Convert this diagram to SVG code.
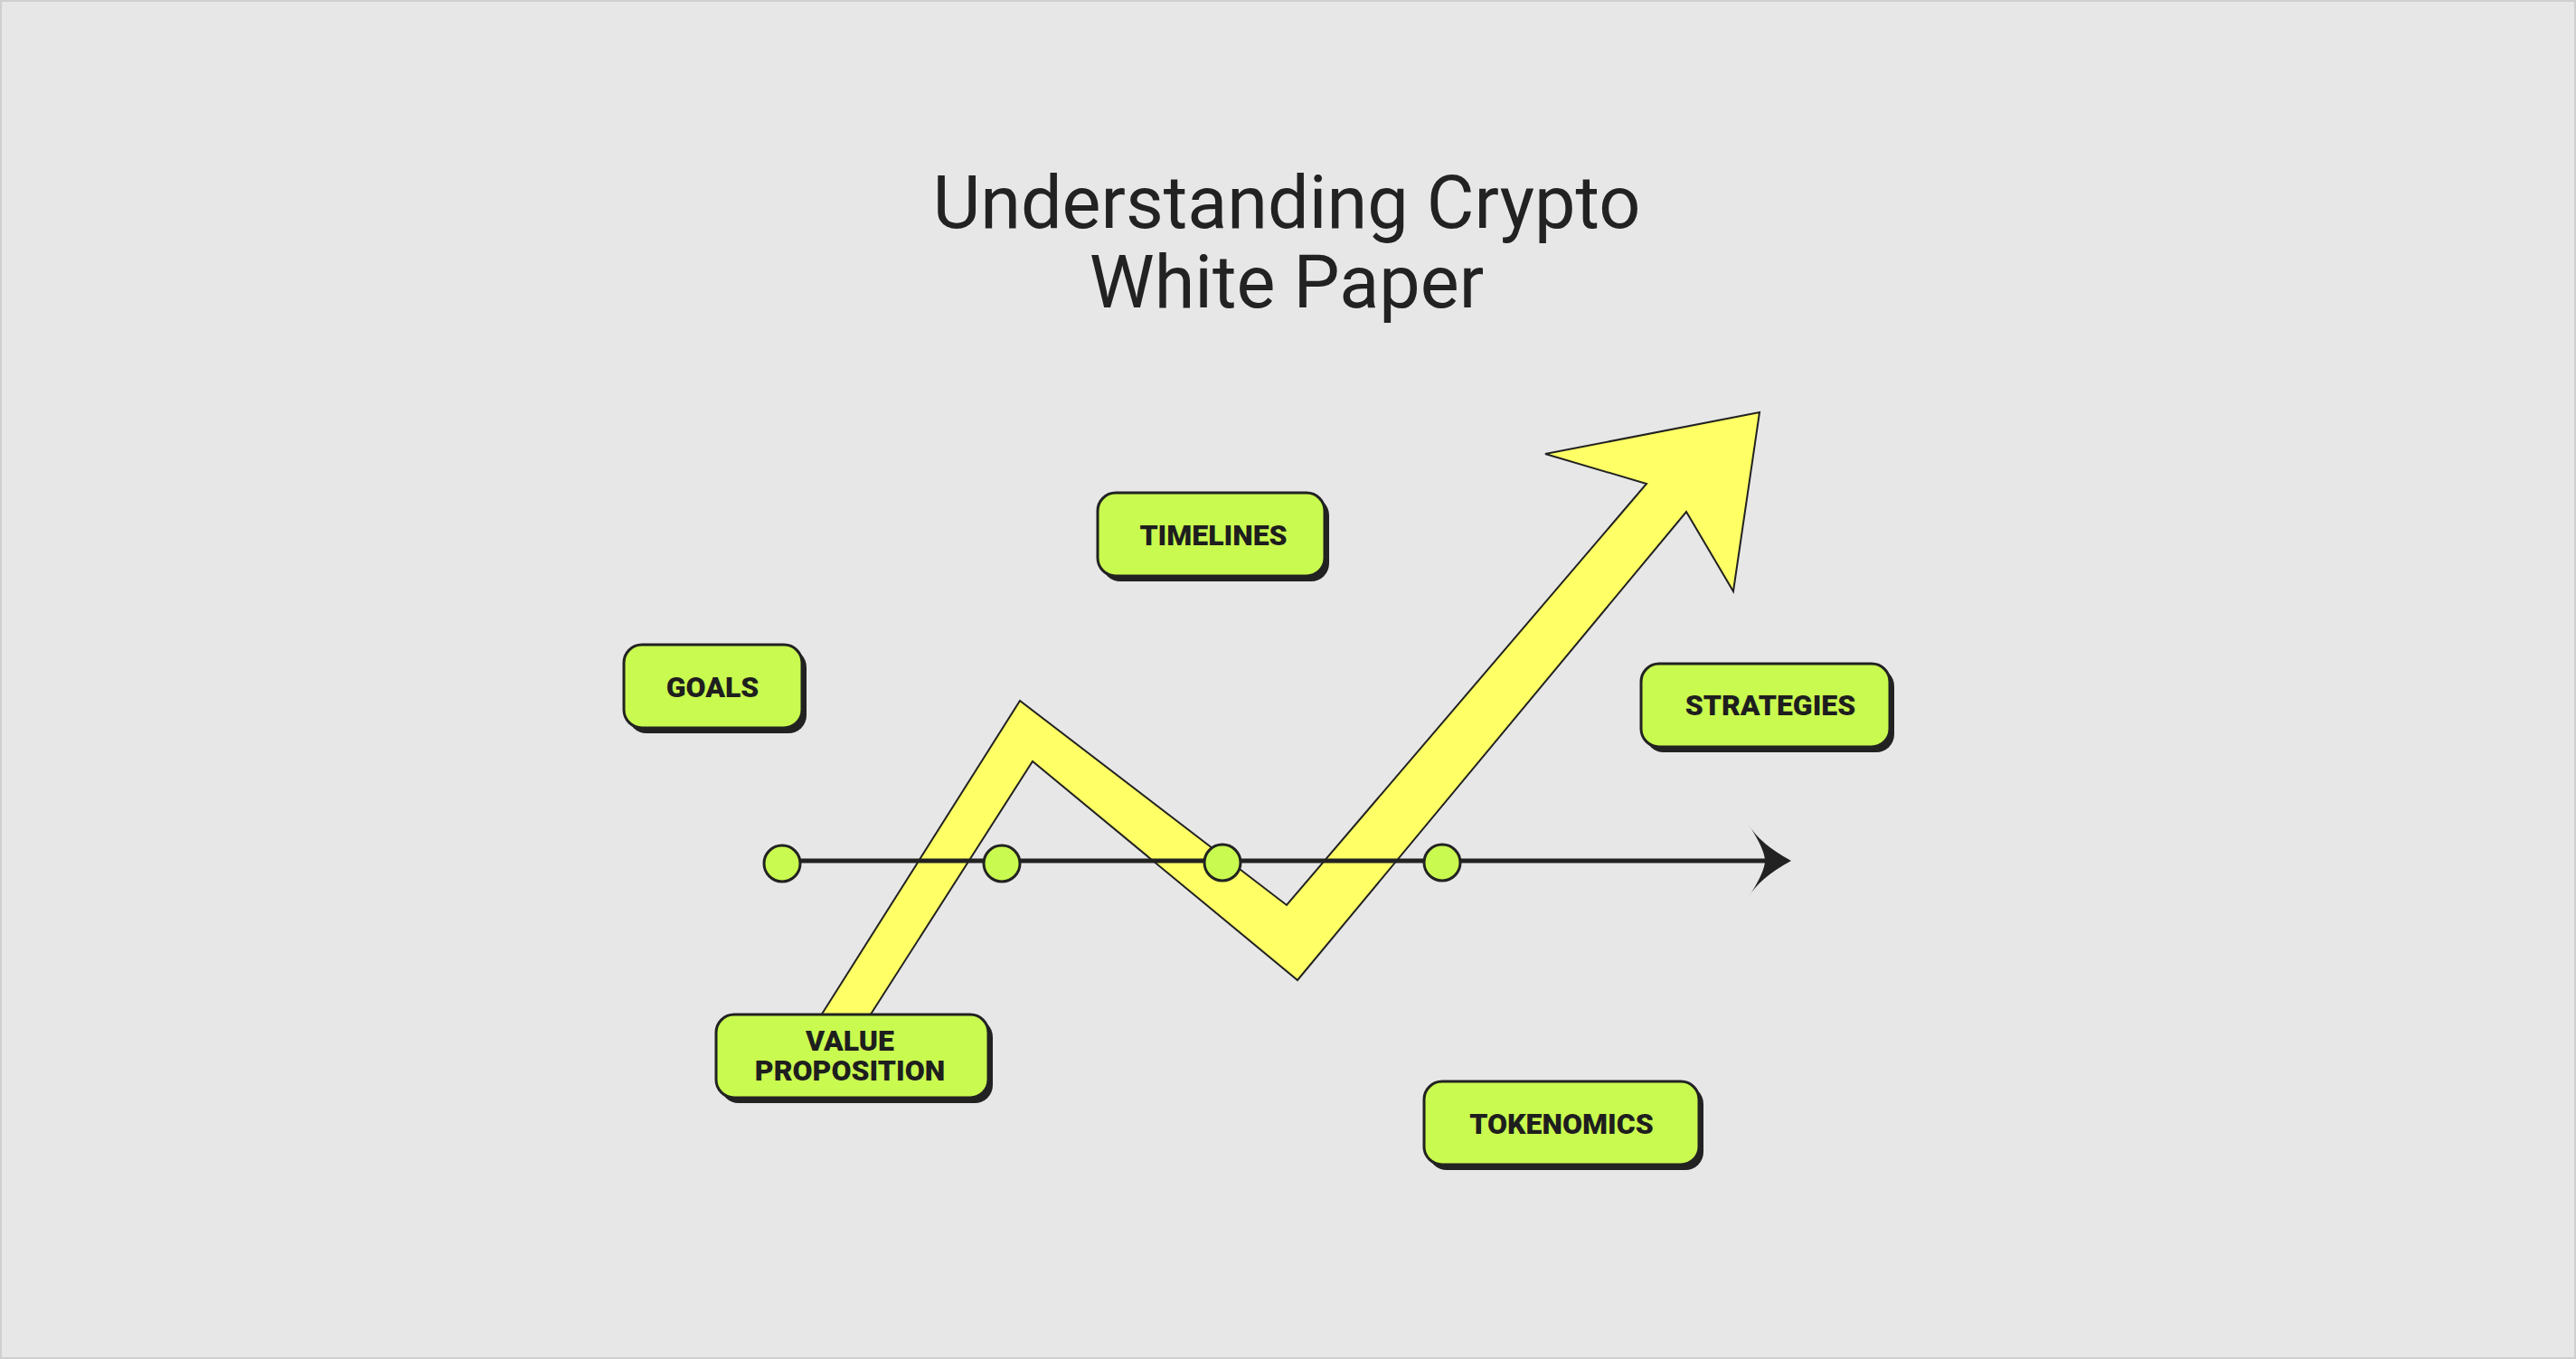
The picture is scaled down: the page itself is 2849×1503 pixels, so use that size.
<svg xmlns="http://www.w3.org/2000/svg" width="2849" height="1503" viewBox="0 0 2849 1503">
<style>
.bx{fill:#c9fa50;stroke:#222;stroke-width:3}
.sh{fill:#222}
.lb{font-family:Roboto,"Liberation Sans",sans-serif;font-weight:900;font-size:32px;fill:#1e1e1e;text-anchor:middle}
.tt{font-family:Roboto,"Liberation Sans",sans-serif;font-size:81px;fill:#222;text-anchor:middle}
.dot{fill:#c9fa50;stroke:#222;stroke-width:3}
</style>
<rect x="1" y="1" width="2847" height="1501" fill="#e7e7e7" stroke="#cfcfcf" stroke-width="2"/>
<g id="title">
<text class="tt" x="1423" y="252">Understanding Crypto</text>
<text class="tt" x="1423" y="340">White Paper</text>
</g>
<g id="growth-arrow">
<polygon points="896,1142 1128,775 1423,1001 1821,535 1709,502 1946,456 1917,654 1865,566 1435,1084 1142,842 950,1142" fill="#ffff66" stroke="#222" stroke-width="2"/>
</g>
<g id="connectors">
<line x1="865" y1="952" x2="1960" y2="952" stroke="#222" stroke-width="5"/>
<path d="M1981,952 Q1946,933 1934,912 Q1952,940 1952,952 Q1952,964 1934,992 Q1946,971 1981,952 Z" fill="#222"/>
</g>
<g id="timeline-points">
<circle class="dot" cx="865" cy="955" r="20"/>
<circle class="dot" cx="1108" cy="955" r="20"/>
<circle class="dot" cx="1352" cy="954" r="20"/>
<circle class="dot" cx="1595" cy="954" r="20"/>
</g>
<g id="goals">
<rect class="sh" x="695" y="718" width="197" height="93" rx="20"/>
<rect class="bx" x="690" y="713" width="197" height="92" rx="20"/>
<text class="lb" x="788" y="771">GOALS</text>
</g>
<g id="timelines">
<rect class="sh" x="1219" y="550" width="251" height="93" rx="20"/>
<rect class="bx" x="1214" y="545" width="251" height="92" rx="20"/>
<text class="lb" x="1342" y="603">TIMELINES</text>
</g>
<g id="strategies">
<rect class="sh" x="1820" y="739" width="275" height="93" rx="20"/>
<rect class="bx" x="1815" y="734" width="275" height="92" rx="20"/>
<text class="lb" x="1958" y="791">STRATEGIES</text>
</g>
<g id="value-proposition">
<rect class="sh" x="797" y="1127" width="301" height="93" rx="20"/>
<rect class="bx" x="792" y="1122" width="301" height="92" rx="20"/>
<text class="lb" x="940" y="1162">VALUE</text>
<text class="lb" x="940" y="1195">PROPOSITION</text>
</g>
<g id="tokenomics">
<rect class="sh" x="1580" y="1201" width="304" height="93" rx="20"/>
<rect class="bx" x="1575" y="1196" width="304" height="92" rx="20"/>
<text class="lb" x="1727" y="1254">TOKENOMICS</text>
</g>
</svg>
